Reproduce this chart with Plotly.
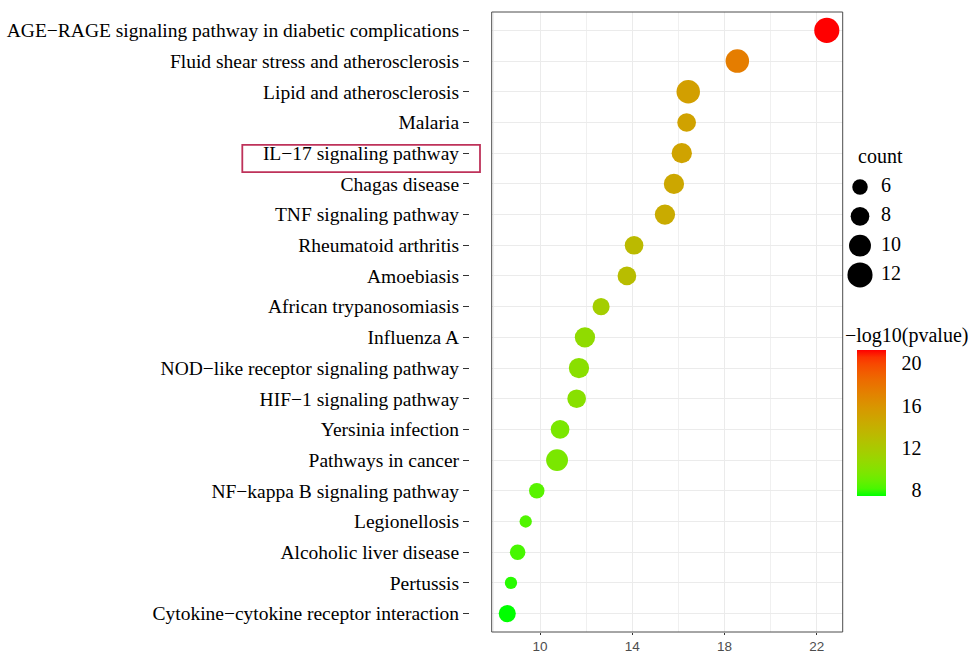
import plotly.graph_objects as go

# ---------------- data ----------------
pathways = [
    "AGE\u2212RAGE signaling pathway in diabetic complications",
    "Fluid shear stress and atherosclerosis",
    "Lipid and atherosclerosis",
    "Malaria",
    "IL\u221217 signaling pathway",
    "Chagas disease",
    "TNF signaling pathway",
    "Rheumatoid arthritis",
    "Amoebiasis",
    "African trypanosomiasis",
    "Influenza A",
    "NOD\u2212like receptor signaling pathway",
    "HIF\u22121 signaling pathway",
    "Yersinia infection",
    "Pathways in cancer",
    "NF\u2212kappa B signaling pathway",
    "Legionellosis",
    "Alcoholic liver disease",
    "Pertussis",
    "Cytokine\u2212cytokine receptor interaction",
]
x_values = [22.44, 18.56, 16.43, 16.36, 16.15, 15.81, 15.42, 14.08, 13.77, 12.65,
            11.95, 11.69, 11.59, 10.87, 10.74, 9.86, 9.38, 9.03, 8.74, 8.58]
counts = [12, 11, 11, 8, 9, 9, 9, 8, 8, 7,
          9, 9, 8, 8, 10, 6, 4, 6, 4, 7]
neglog10p = [21.26, 17.39, 15.2, 15.0, 14.9, 14.6, 14.35, 13.2, 13.0, 11.6,
             10.5, 10.2, 10.1, 9.5, 9.5, 8.5, 8.3, 8.1, 7.8, 7.43]

x_ticks = [10, 14, 18, 22]
legend_counts = [6, 8, 10, 12]
cbar_ticks = [8, 12, 16, 20]

# ---------------- styling helpers ----------------
def count_to_px(c):
    return 5.9 + 1.6 * c

def srgb_to_lin(c):
    c = c / 255.0
    return c / 12.92 if c <= 0.04045 else ((c + 0.055) / 1.055) ** 2.4

def lin_to_srgb(c):
    c = max(0.0, min(1.0, c))
    v = 12.92 * c if c <= 0.0031308 else 1.055 * c ** (1 / 2.4) - 0.055
    return int(round(v * 255))

def rgb_to_lab(r, g, b):
    R, G, B = srgb_to_lin(r), srgb_to_lin(g), srgb_to_lin(b)
    X = 0.4124 * R + 0.3576 * G + 0.1805 * B
    Y = 0.2126 * R + 0.7152 * G + 0.0722 * B
    Z = 0.0193 * R + 0.1192 * G + 0.9505 * B
    def f(t):
        return t ** (1 / 3) if t > 0.008856 else 7.787 * t + 16 / 116
    fx, fy, fz = f(X / 0.95047), f(Y / 1.0), f(Z / 1.08883)
    return 116 * fy - 16, 500 * (fx - fy), 200 * (fy - fz)

def lab_to_rgb(L, a, b):
    fy = (L + 16) / 116
    fx = fy + a / 500
    fz = fy - b / 200
    def finv(t):
        return t ** 3 if t > 0.206893 else (t - 16 / 116) / 7.787
    X, Y, Z = 0.95047 * finv(fx), finv(fy), 1.08883 * finv(fz)
    R = 3.2406 * X - 1.5372 * Y - 0.4986 * Z
    G = -0.9689 * X + 1.8758 * Y + 0.0415 * Z
    B = 0.0557 * X - 0.2040 * Y + 1.0570 * Z
    return lin_to_srgb(R), lin_to_srgb(G), lin_to_srgb(B)

lab_lo = rgb_to_lab(0, 255, 0)
lab_hi = rgb_to_lab(255, 0, 0)
colorscale = []
N = 20
for i in range(N + 1):
    t = i / N
    lab = [lab_lo[k] + (lab_hi[k] - lab_lo[k]) * t for k in range(3)]
    r, g, b = lab_to_rgb(*lab)
    colorscale.append([t, f"rgb({r},{g},{b})"])

# ---------------- layout geometry (pixels) ----------------
W, H = 972, 654
ML, MR, MT, MB = 469, 10, 12, 22
PW = W - ML - MR
PH = H - MT - MB

def px_x(p):
    return (p - ML) / PW

def px_y(p):
    return (H - MB - p) / PH

SERIF = "Liberation Serif, Times New Roman, serif"
SANS = "Liberation Sans, Arial, sans-serif"

fig = go.Figure()

fig.add_trace(go.Scatter(
    x=x_values, y=pathways, mode="markers",
    marker=dict(
        size=[count_to_px(c) for c in counts],
        color=neglog10p, colorscale=colorscale,
        cmin=min(neglog10p), cmax=max(neglog10p),
        line=dict(width=0), opacity=1,
        colorbar=dict(
            x=px_x(857), xanchor="left", xpad=0,
            y=px_y(350), yanchor="top", ypad=0,
            lenmode="pixels", len=146,
            thicknessmode="pixels", thickness=29,
            outlinewidth=0,
            tickmode="array", tickvals=cbar_ticks,
            ticktext=["\u2007" + str(v) if v < 10 else str(v) for v in cbar_ticks],
            ticks="outside", ticklen=12, tickcolor="white",
            tickfont=dict(family=SERIF, size=20, color="black"),
        ),
    ),
    showlegend=False, hoverinfo="x+y",
))

# size legend drawn in its own hidden subplot
fig.add_trace(go.Scatter(
    x=[0.5] * len(legend_counts), y=list(range(len(legend_counts))),
    mode="markers",
    marker=dict(size=[count_to_px(c) for c in legend_counts], color="#000000",
                opacity=1, line=dict(width=0)),
    xaxis="x2", yaxis="y2", showlegend=False, hoverinfo="skip", cliponaxis=False,
))
fig.add_trace(go.Scatter(
    x=[1.55] * len(legend_counts), y=list(range(len(legend_counts))),
    mode="text", text=[str(c) for c in legend_counts], textposition="middle right",
    textfont=dict(family=SERIF, size=20, color="black"),
    xaxis="x2", yaxis="y2", showlegend=False, hoverinfo="skip", cliponaxis=False,
))

row_h = 29.3
leg_top = 187 - 0.5 * row_h
leg_bot = 275 + 0.5 * row_h

fig.update_layout(
    width=W, height=H,
    margin=dict(l=ML, r=MR, t=MT, b=MB, pad=0, autoexpand=False),
    paper_bgcolor="white", plot_bgcolor="white",
    xaxis=dict(
        domain=[px_x(491.7), px_x(842.7)],
        range=[7.905, 23.13],
        tickmode="array", tickvals=x_ticks,
        ticks="outside", ticklen=2, tickwidth=1, tickcolor="#333333",
        tickfont=dict(family=SANS, size=13.5, color="#4D4D4D"),
        showgrid=True, gridcolor="#EBEBEB", gridwidth=1.1,
        minor=dict(dtick=2, tick0=8, showgrid=True, gridcolor="#F0F0F0", gridwidth=0.8, ticks=""),
        zeroline=False, showline=False, automargin=False,
        anchor="y",
    ),
    yaxis=dict(
        type="category",
        categoryorder="array", categoryarray=pathways,
        range=[len(pathways) - 1 + 0.6, -0.6],
        domain=[0, 1],
        anchor="free", position=0, side="left",
        ticks="outside", ticklen=6, tickwidth=1, tickcolor="#333333",
        tickfont=dict(family=SERIF, size=19.5, color="black"),
        showgrid=True, gridcolor="#EBEBEB", gridwidth=1.1,
        zeroline=False, showline=False, automargin=False,
    ),
    xaxis2=dict(domain=[px_x(850), px_x(930)], range=[0, 4], visible=False, anchor="y2",
                automargin=False),
    yaxis2=dict(domain=[px_y(leg_bot), px_y(leg_top)], range=[3.5, -0.5], visible=False,
                anchor="x2", automargin=False),
    shapes=[
        dict(type="rect", xref="x domain", yref="y domain", x0=0, x1=1, y0=0, y1=1,
             line=dict(color="#4D4D4D", width=1), layer="above"),
        dict(type="rect", xref="paper", yref="y", x0=px_x(242.3), x1=px_x(480),
             y0=3.73, y1=4.62, line=dict(color="#BE325A", width=1.8), layer="above"),
    ],
    annotations=[
        dict(text="count", xref="paper", yref="paper", x=px_x(856), y=px_y(156),
             xanchor="left", yanchor="middle", showarrow=False,
             font=dict(family=SERIF, size=20, color="black")),
        dict(text="\u2212log10(pvalue)", xref="paper", yref="paper", x=px_x(843), y=px_y(335),
             xanchor="left", yanchor="middle", showarrow=False,
             font=dict(family=SERIF, size=20, color="black")),
    ],
)

fig.write_html("out.html")
